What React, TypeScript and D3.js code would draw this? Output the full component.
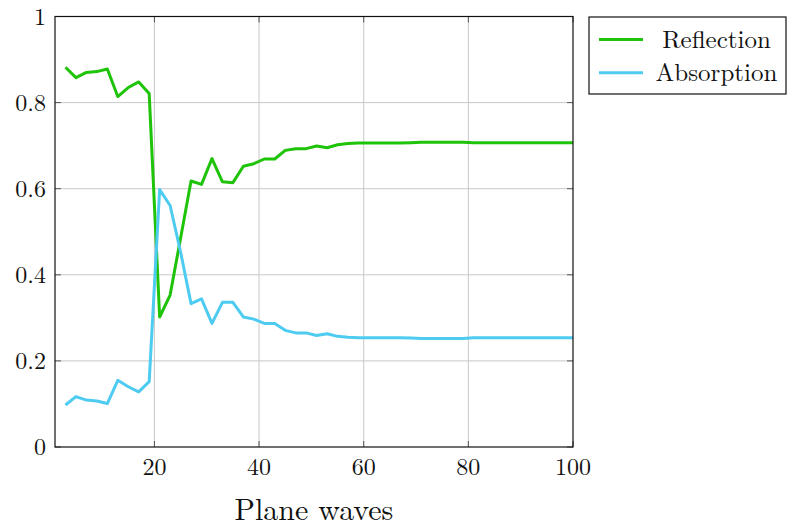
import React from "react";
import * as d3 from "d3";

const xValues = [3,5,7,9,11,13,15,17,19,21,23,25,27,29,31,33,35,37,39,41,43,45,47,49,51,53,55,57,59,61,63,65,67,69,71,73,75,77,79,81,83,85,87,89,91,93,95,97,99,100];
const reflection = [0.882,0.858,0.870,0.872,0.878,0.814,0.835,0.848,0.821,0.302,0.353,0.485,0.618,0.610,0.670,0.616,0.614,0.652,0.658,0.669,0.669,0.689,0.693,0.693,0.699,0.695,0.702,0.705,0.706,0.706,0.706,0.706,0.706,0.707,0.708,0.708,0.708,0.708,0.708,0.707,0.707,0.707,0.707,0.707,0.707,0.707,0.707,0.707,0.707,0.707];
const absorption = [0.0975,0.117,0.109,0.107,0.101,0.155,0.140,0.128,0.152,0.598,0.561,0.453,0.333,0.344,0.287,0.336,0.336,0.302,0.297,0.287,0.287,0.271,0.265,0.265,0.259,0.263,0.257,0.255,0.254,0.254,0.254,0.254,0.254,0.253,0.252,0.252,0.252,0.252,0.252,0.254,0.254,0.254,0.254,0.254,0.254,0.254,0.254,0.254,0.254,0.254];
const xTicks = [20,40,60,80,100];
const yTicks = [0,0.2,0.4,0.6,0.8,1];
const seriesNames = ["Reflection","Absorption"];
const colors = ["#1ec30a","#4ecbf0"];

export default function App() {
  const W = 787, H = 527;
  const left = 55, right = 573, top = 16.5, bottom = 447;
  const x = d3.scaleLinear().domain([1, 100]).range([left, right]);
  const y = d3.scaleLinear().domain([0, 1]).range([bottom, top]);
  const line = d3.line<number>().x((_, i) => x(xValues[i])).y(d => y(d));
  const fs = { fontFamily: '"Latin Modern Roman", "Liberation Serif", serif' };
  const series = [reflection, absorption];
  return (
    <svg width={W} height={H} style={{ position: "absolute", left: 0, top: 0, background: "#fff" }}>
      <defs>
        <clipPath id="plotclip">
          <rect x={left} y={top} width={right - left} height={bottom - top} />
        </clipPath>
      </defs>
      {xTicks.filter(t => t < 100).map(t => (
        <line key={"gx" + t} x1={x(t)} x2={x(t)} y1={top} y2={bottom} stroke="#c8c8c8" strokeWidth={1} />
      ))}
      {yTicks.filter(t => t > 0 && t < 1).map(t => (
        <line key={"gy" + t} x1={left} x2={right} y1={y(t)} y2={y(t)} stroke="#c8c8c8" strokeWidth={1} />
      ))}
      {xTicks.map(t => (
        <g key={"tx" + t}>
          <line x1={x(t)} x2={x(t)} y1={bottom} y2={bottom - 6} stroke="#555" strokeWidth={1} />
          <line x1={x(t)} x2={x(t)} y1={top} y2={top + 6} stroke="#555" strokeWidth={1} />
          <text x={x(t)} y={bottom + 28} textAnchor="middle" style={fs} fontSize={24} fill="#111">{t}</text>
        </g>
      ))}
      {yTicks.map(t => (
        <g key={"ty" + t}>
          <line x1={left} x2={left + 6} y1={y(t)} y2={y(t)} stroke="#555" strokeWidth={1} />
          <line x1={right} x2={right - 6} y1={y(t)} y2={y(t)} stroke="#555" strokeWidth={1} />
          <text x={left - 9} y={y(t) + 8} textAnchor="end" style={fs} fontSize={24} fill="#111">{t === 0 || t === 1 ? String(t) : t.toFixed(1)}</text>
        </g>
      ))}
      <g clipPath="url(#plotclip)">
        {series.map((s, k) => (
          <path key={"s" + k} d={line(s) || ""} fill="none" stroke={colors[k]} strokeWidth={3} strokeLinejoin="round" />
        ))}
      </g>
      <rect x={left} y={top} width={right - left} height={bottom - top} fill="none" stroke="#111" strokeWidth={1.2} />
      <text x={(left + right) / 2} y={520} textAnchor="middle" style={fs} fontSize={30} fill="#111">Plane waves</text>
      <rect x={589} y={17} width={197} height={77} fill="#fff" stroke="#111" strokeWidth={1.2} />
      {seriesNames.map((n, k) => (
        <g key={"lg" + k}>
          <line x1={599} x2={643} y1={39.5 + k * 33.3} y2={39.5 + k * 33.3} stroke={colors[k]} strokeWidth={3} />
          <text x={716.5} y={39.5 + k * 33.3 + 8} textAnchor="middle" style={fs} fontSize={25} fill="#111">{n}</text>
        </g>
      ))}
    </svg>
  );
}
